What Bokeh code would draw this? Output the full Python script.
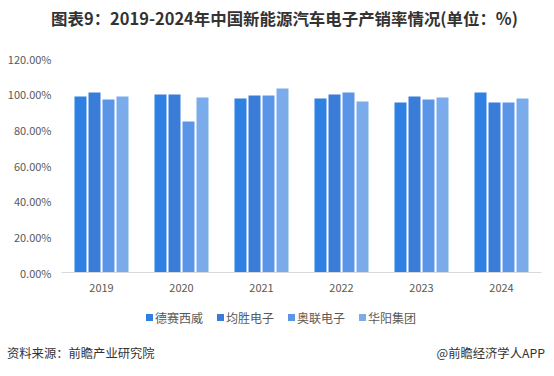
from bokeh.plotting import figure
from bokeh.models import (FactorRange, Range1d, FixedTicker, NumeralTickFormatter,
                          ColumnDataSource, Div)
from bokeh.layouts import column
from bokeh.transform import dodge
from bokeh.embed import file_html
from bokeh.resources import INLINE

years = ["2019", "2020", "2021", "2022", "2023", "2024"]
companies = ["德赛西威", "均胜电子", "奥联电子", "华阳集团"]
desay = [0.987, 0.998, 0.976, 0.976, 0.953, 1.009]
joyson = [1.009, 0.998, 0.993, 0.998, 0.987, 0.953]
aolian = [0.970, 0.847, 0.993, 1.009, 0.970, 0.953]
huayang = [0.987, 0.981, 1.032, 0.959, 0.981, 0.976]
colors = ["#2F80E3", "#3A7DD8", "#5A95E6", "#7AABEB"]
y_ticks = [0, 0.2, 0.4, 0.6, 0.8, 1.0, 1.2]

FONT = "Noto Sans CJK SC"
W = 542

src = ColumnDataSource(dict(year=years, s0=desay, s1=joyson, s2=aolian, s3=huayang))

title = Div(text="图表9：2019-2024年中国新能源汽车电子产销率情况(单位：%)", width=W, height=30,
            margin=0,
            styles={"font-family": FONT, "font-size": "16.45px", "font-weight": "bold",
                    "color": "#333333", "text-align": "center", "line-height": "24px",
                    "padding-top": "6px", "padding-left": "27px", "box-sizing": "border-box",
                    "width": f"{W}px", "white-space": "nowrap"})

p = figure(width=W, height=270, x_range=FactorRange(*years), y_range=Range1d(0, 1.2),
           output_backend="svg", toolbar_location=None, margin=0,
           min_border_left=61, min_border_right=1, min_border_top=28, min_border_bottom=28)
p.outline_line_color = None
p.xgrid.grid_line_color = None
p.ygrid.grid_line_color = None

offsets = [-0.2625, -0.0875, 0.0875, 0.2625]
for i, key in enumerate(["s0", "s1", "s2", "s3"]):
    p.vbar(x=dodge("year", offsets[i], range=p.x_range), top=key, width=0.15,
           source=src, fill_color=colors[i], line_color=None)

p.yaxis.ticker = FixedTicker(ticks=y_ticks)
p.yaxis.formatter = NumeralTickFormatter(format="0.00%")
p.yaxis.axis_line_color = None
p.yaxis.major_tick_line_color = None
p.yaxis.minor_tick_line_color = None
p.yaxis.major_tick_out = 0
p.yaxis.major_label_text_font = FONT
p.yaxis.major_label_text_font_size = "11px"
p.yaxis.major_label_text_color = "#595959"
p.yaxis.major_label_standoff = 10

p.xaxis.axis_line_color = "#D9D9D9"
p.xaxis.major_tick_line_color = None
p.xaxis.minor_tick_line_color = None
p.xaxis.major_tick_out = 0
p.xaxis.major_label_text_font = FONT
p.xaxis.major_label_text_font_size = "11px"
p.xaxis.major_label_text_color = "#595959"
p.xaxis.major_label_standoff = 11

items = "".join(
    f'<span style="display:inline-flex;align-items:center;width:71px;">'
    f'<span style="display:inline-block;width:7px;height:7px;background:{c};margin-right:2px;"></span>'
    f'{name}</span>'
    for name, c in zip(companies, colors))
legend = Div(text=f'<div style="display:flex;justify-content:flex-start;width:{W}px;padding-left:146px;box-sizing:border-box;white-space:nowrap;">{items}</div>',
             width=W, height=32, margin=0,
             styles={"font-family": FONT, "font-size": "12px", "color": "#595959",
                     "line-height": "32px"})

footer = Div(text='<div style="display:flex;justify-content:space-between;width:545px;padding-left:7px;box-sizing:border-box;">'
                  '<span>资料来源：前瞻产业研究院</span><span>@前瞻经济学人APP</span></div>',
             width=545, height=34, margin=0,
             styles={"font-family": FONT, "font-size": "12.3px", "color": "#333333",
                     "line-height": "24px", "padding-top": "9px", "box-sizing": "border-box"})

layout = column(title, p, legend, footer, spacing=0)
open("out.html", "w").write(file_html(layout, INLINE))
